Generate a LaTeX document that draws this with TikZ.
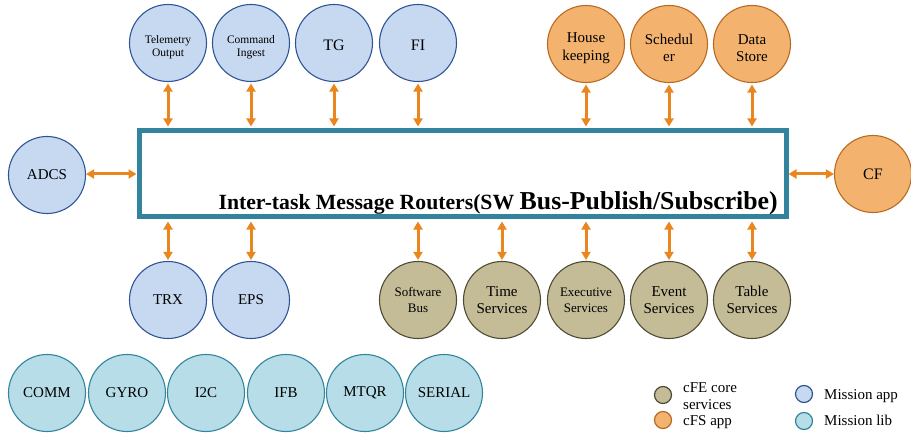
\documentclass[tikz,border=0pt]{standalone}
\usepackage{fontspec}
\setmainfont{Liberation Serif}
\usetikzlibrary{arrows.meta}

\definecolor{appfill}{HTML}{C6D9F0}
\definecolor{appdraw}{HTML}{2F5496}
\definecolor{cfsfill}{HTML}{F3B36F}
\definecolor{cfsdraw}{HTML}{B96A20}
\definecolor{corefill}{HTML}{C4BC96}
\definecolor{coredraw}{HTML}{4F4B33}
\definecolor{libfill}{HTML}{B7DDE8}
\definecolor{libdraw}{HTML}{31849B}
\definecolor{busdraw}{HTML}{31849B}
\definecolor{arrowc}{HTML}{EA861F}

\newcommand{\fs}[2]{\fontsize{#1}{#2}\selectfont}

\tikzset{
  bubble/.style={circle, minimum size=77pt, inner sep=0pt, line width=1.1pt, align=center, text=black},
  mapp/.style={bubble, fill=appfill, draw=appdraw},
  cfsapp/.style={bubble, fill=cfsfill, draw=cfsdraw},
  coresvc/.style={bubble, fill=corefill, draw=coredraw},
  mlib/.style={bubble, fill=libfill, draw=libdraw},
  inner label/.style={align=center, inner sep=0pt, yshift=-4pt, text=black},
  bus/.style={draw=busdraw, line width=5pt, fill=white, inner sep=0pt},
  biarrow/.style={draw=arrowc, line width=3pt,
    {Triangle[length=8pt,width=9pt]}-{Triangle[length=8pt,width=9pt]}},
  keydot/.style={circle, minimum size=17pt, inner sep=0pt, line width=1.2pt},
  keytext/.style={anchor=base west, inner sep=0pt, align=left, font=\fs{15}{17}},
}

\begin{document}
\begin{tikzpicture}[x=1pt, y=-1pt]
  \useasboundingbox (0,0) rectangle (911,433);

  % software bus
  \node[bus, minimum width=647pt, minimum height=86pt] (sb) at (462.5,174) {};
  \node[anchor=base east, inner sep=0pt, font=\bfseries] (sbl) at (778,209)
    {{\fs{21.7}{25}Inter-task Message Routers(SW }{\fs{25.8}{28}Bus-Publish/Subscribe)}};

  % mission apps on top
  \node[mapp, label={[inner label, font=\fs{11.5}{13}]center:{Telemetry\\Output}}] (tlm) at (168,43) {};
  \node[mapp, label={[inner label, font=\fs{11.5}{13}]center:{Command\\Ingest}}] (cmd) at (251,43) {};
  \node[mapp, label={[inner label, yshift=2pt, font=\fs{16}{18}]center:TG}] (tg) at (334,43) {};
  \node[mapp, label={[inner label, yshift=2pt, font=\fs{16}{18}]center:FI}] (fi) at (418,43) {};

  % cFS apps on top
  \node[cfsapp, label={[inner label, font=\fs{15}{17.5}]center:{House\\keeping}}] (hk) at (586,44) {};
  \node[cfsapp, label={[inner label, font=\fs{15}{17.5}]center:{Schedul\\er}}] (sch) at (669,44) {};
  \node[cfsapp, label={[inner label, font=\fs{15}{17.5}]center:{Data\\Store}}] (ds) at (752,44) {};

  % side apps
  \node[mapp, font=\fs{15}{17}] (adcs) at (47,175) {ADCS};
  \node[cfsapp, font=\fs{16}{18}] (cf) at (873,174) {CF};

  % mission apps below
  \node[mapp, font=\fs{15}{17}] (trx) at (168,300) {TRX};
  \node[mapp, font=\fs{15}{17}] (eps) at (251,300) {EPS};

  % cFE core services
  \node[coresvc, font=\fs{13}{16}] (swb) at (418,300) {Software\\Bus};
  \node[coresvc, font=\fs{15}{17.5}] (time) at (502,300) {Time\\Services};
  \node[coresvc, font=\fs{13}{16}] (es) at (586,300) {Executive\\Services};
  \node[coresvc, font=\fs{15}{17.5}] (evs) at (669,300) {Event\\Services};
  \node[coresvc, font=\fs{15}{17.5}] (tbl) at (752,300) {Table\\Services};

  % mission libraries
  \node[mlib, font=\fs{15}{17}] (comm) at (47,393) {COMM};
  \node[mlib, font=\fs{15}{17}] (gyro) at (127,393) {GYRO};
  \node[mlib, font=\fs{15}{17}] (i2c) at (206,393) {I2C};
  \node[mlib, font=\fs{15}{17}] (ifb) at (286,393) {IFB};
  \node[mlib, font=\fs{15}{17}] (mtqr) at (365,393) {MTQR};
  \node[mlib, font=\fs{15}{17}] (serial) at (444,393) {SERIAL};

  % links to the bus
  \foreach \n in {tlm,cmd,tg,fi,hk,sch,ds}
    \draw[biarrow, shorten <=1.5pt, shorten >=2pt] (\n.south) -- (\n.south |- sb.north);
  \foreach \n in {trx,eps,swb,time,es,evs,tbl}
    \draw[biarrow, shorten <=2pt, shorten >=1pt] (\n.north |- sb.south) -- (\n.north);
  \draw[biarrow] (adcs.east |- sb.west) -- (sb.west);
  \draw[biarrow] (sb.east) -- (cf.west |- sb.east);

  % legend
  \node[keydot, fill=corefill, draw=coredraw] (kcore) at (663,395) {};
  \node[keydot, fill=cfsfill, draw=cfsdraw] (kcfs) at (663,420) {};
  \node[keydot, fill=appfill, draw=appdraw] (kapp) at (804,394) {};
  \node[keydot, fill=libfill, draw=libdraw] (klib) at (804,421) {};
  \node[keytext] (tcore) at (683,409) {cFE core\\services};
  \node[keytext] (tcfs) at (683,425) {cFS app};
  \node[keytext] (tapp) at (824,399) {Mission app};
  \node[keytext] (tlib) at (824,425) {Mission lib};
\end{tikzpicture}
\end{document}
